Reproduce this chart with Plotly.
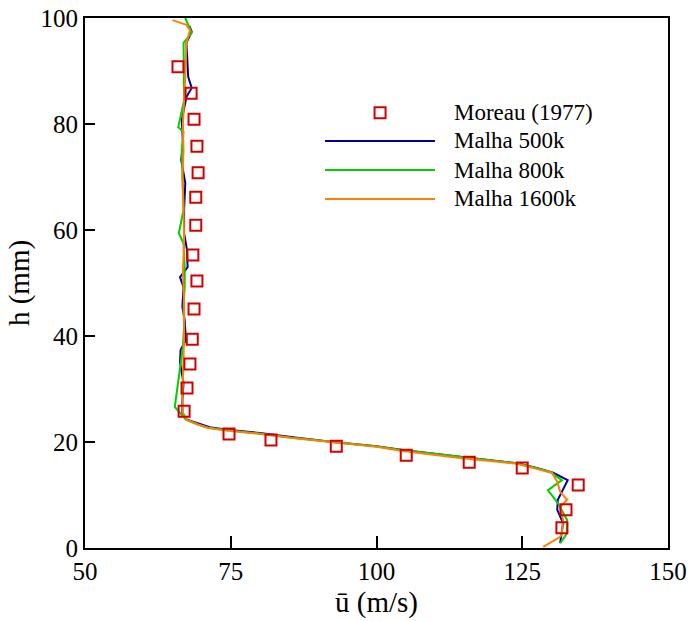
import plotly.graph_objects as go

# Moreau (1977) experimental points
exp_u = [65.95, 68.2, 68.7, 69.2, 69.4, 69.0, 69.0, 68.5, 69.2, 68.7, 68.4, 68.0, 67.5, 67.0,
         74.7, 81.9, 93.1, 105.1, 115.9, 125.0, 134.6, 132.5, 131.8]
exp_h = [90.8, 85.8, 80.9, 75.8, 70.8, 66.2, 60.9, 55.3, 50.4, 45.1, 39.4, 34.7, 30.2, 25.8,
         21.5, 20.4, 19.2, 17.5, 16.2, 15.1, 11.9, 7.2, 3.8]

# Malha 500k
m500_h = [98.5, 97.4, 95.3, 88.9, 86.8, 85.1, 80.8, 76.4, 73.2, 68.9, 63.8, 59.4, 56.2, 53.0,
          51.1, 49.2, 45.5, 43.0, 39.2, 37.4, 35.0, 31.1, 27.9, 25.5, 24.2, 23.4, 22.8, 22.3, 21.7,
          20.9, 20.0, 19.2, 18.5, 17.2, 16.0, 15.1, 14.2, 12.8, 9.1, 7.2, 4.7, 0.9]
m500_u = [67.9, 68.3, 67.4, 67.7, 68.3, 67.4, 66.6, 66.8, 66.5, 67.2, 67.0, 67.0, 67.5, 67.6,
          66.3, 66.9, 66.7, 67.1, 67.3, 66.4, 66.3, 66.9, 66.7, 66.7, 67.5, 69.7, 71.4, 74.4, 80.0,
          85.7, 92.5, 100.0, 104.5, 114.3, 124.1, 127.5, 130.3, 132.8, 131.1, 131.0, 132.0, 131.5]

# Malha 800k
m800_h = [100.0, 97.2, 95.3, 88.9, 84.5, 79.4, 78.5, 75.1, 67.5, 63.8, 59.4, 57.5, 53.0, 49.2,
          45.5, 42.0, 38.0, 31.1, 26.6, 25.5, 24.2, 23.3, 22.7, 22.2, 21.6, 20.8, 20.0, 19.2, 18.5,
          17.2, 16.0, 15.1, 14.2, 13.8, 12.8, 10.9, 8.5, 5.3, 2.8, 0.9]
m800_u = [67.2, 68.3, 66.9, 67.0, 67.0, 66.0, 66.9, 66.6, 66.8, 66.9, 66.1, 66.9, 67.1, 67.1,
          66.9, 67.0, 66.8, 66.0, 65.4, 66.3, 67.3, 69.3, 71.2, 74.2, 79.8, 85.5, 92.3, 99.8, 104.3,
          114.2, 124.0, 127.4, 130.1, 130.5, 131.8, 129.4, 131.1, 132.7, 132.7, 131.5]

# Malha 1600k
m1600_h = [99.6, 98.7, 97.7, 95.3, 88.9, 84.0, 80.0, 75.0, 70.0, 64.0, 58.0, 52.0, 46.0, 40.0,
           34.0, 28.0, 25.5, 24.2, 23.3, 22.7, 22.2, 21.6, 20.8, 20.0, 19.1, 18.3, 17.0, 15.9, 15.0,
           14.2, 12.5, 10.6, 9.1, 7.7, 5.3, 2.8, 2.1, 0.2]
m1600_u = [65.0, 67.4, 68.0, 67.4, 67.2, 67.0, 66.8, 66.9, 66.7, 66.9, 67.0, 66.8, 67.0, 67.0,
           66.8, 66.7, 66.8, 67.4, 69.4, 71.0, 74.0, 79.5, 85.2, 92.0, 100.0, 104.5, 114.3, 124.1, 127.5,
           130.1, 131.0, 131.5, 132.7, 131.5, 132.0, 131.8, 131.5, 128.6]

x_ticks = [50, 75, 100, 125, 150]
y_ticks = [0, 20, 40, 60, 80, 100]

RED = "#d40000"
BLUE = "#0000a0"
GREEN = "#00d000"
ORANGE = "#ff8000"
FONT = "'Liberation Serif', 'Times New Roman', 'DejaVu Serif', serif"

fig = go.Figure()
fig.add_trace(go.Scatter(x=m500_u, y=m500_h, mode="lines", line=dict(color=BLUE, width=2), name="Malha 500k"))
fig.add_trace(go.Scatter(x=m800_u, y=m800_h, mode="lines", line=dict(color=GREEN, width=2), name="Malha 800k"))
fig.add_trace(go.Scatter(x=m1600_u, y=m1600_h, mode="lines", line=dict(color=ORANGE, width=2), name="Malha 1600k"))
fig.add_trace(go.Scatter(x=exp_u, y=exp_h, mode="markers", name="Moreau (1977)",
                         marker=dict(symbol="square-open", size=11, color=RED, line=dict(color=RED, width=2))))

# custom legend (paper coordinates)
legend_items = [("Moreau (1977)", None, 0.8213), ("Malha 500k", BLUE, 0.768),
                ("Malha 800k", GREEN, 0.713), ("Malha 1600k", ORANGE, 0.6585)]
shapes = []
annotations = []
for label, col, yy in legend_items:
    if col is None:
        shapes.append(dict(type="rect", xref="paper", yref="paper", xsizemode="pixel", ysizemode="pixel",
                           xanchor=0.5061, yanchor=yy, x0=-5.5, x1=5.5, y0=-5.5, y1=5.5,
                           line=dict(color=RED, width=2)))
    else:
        shapes.append(dict(type="line", xref="paper", yref="paper", x0=0.4117, x1=0.6003, y0=yy, y1=yy,
                           line=dict(color=col, width=2)))
    annotations.append(dict(text=label, xref="paper", yref="paper", x=0.629, y=yy, xanchor="left",
                            yanchor="middle", showarrow=False, font=dict(family=FONT, size=23, color="black")))

fig.update_layout(
    width=691, height=621,
    margin=dict(l=85, r=23, t=18, b=73),
    paper_bgcolor="white", plot_bgcolor="white",
    showlegend=False,
    font=dict(family=FONT, color="black"),
    shapes=shapes, annotations=annotations,
    xaxis=dict(range=[50, 150], tickvals=x_ticks, ticktext=[str(v) for v in x_ticks],
               showline=True, linecolor="black", linewidth=2, mirror=True, automargin=False,
               ticks="inside", ticklen=12, tickwidth=2, tickcolor="black",
               showgrid=False, zeroline=False, tickfont=dict(family=FONT, size=25),
               title=dict(text="ū (m/s)", font=dict(family=FONT, size=29), standoff=8)),
    yaxis=dict(range=[0, 100], tickvals=y_ticks, ticktext=[str(v) for v in y_ticks],
               showline=True, linecolor="black", linewidth=2, mirror=True, automargin=False,
               ticks="inside", ticklen=10, tickwidth=2, tickcolor="black",
               showgrid=False, zeroline=False, tickfont=dict(family=FONT, size=25),
               title=dict(text="h (mm)", font=dict(family=FONT, size=29), standoff=2)),
)

fig.write_html("out.html")
